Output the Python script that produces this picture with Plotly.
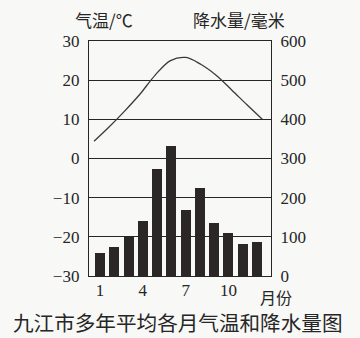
import plotly.graph_objects as go

months = list(range(1, 13))
precip_mm = [59, 73, 99, 140, 272, 332, 168, 224, 136, 111, 81, 88]
temp_c = [4.4, 8.1, 12.1, 16.4, 21.3, 25.0, 25.8, 24.0, 21.2, 17.5, 13.7, 10.0]
temp_ticks = [30, 20, 10, 0, -10, -20, -30]
temp_ticktext = ["30", "20", "10", "0", "\u221210", "\u221220", "\u221230"]
precip_ticks = [0, 100, 200, 300, 400, 500, 600]
month_ticks = [1, 4, 7, 10]

INK = "#262626"
BG = "#f8f8f6"
SERIF = "Liberation Serif, Times New Roman, serif"
CJK = "Noto Sans CJK SC"

fig = go.Figure()
fig.add_trace(go.Scatter(
    x=months, y=temp_c, xaxis="x", yaxis="y",
    mode="lines", line=dict(color="#3a3a3a", width=1.3, shape="spline", smoothing=1.0),
    showlegend=False, hoverinfo="skip"))
fig.add_trace(go.Bar(
    x=months, y=precip_mm, xaxis="x2", yaxis="y2",
    marker=dict(color="#2b2727", line=dict(width=0)), width=0.70,
    showlegend=False, hoverinfo="skip"))

fig.update_layout(
    width=360, height=338,
    margin=dict(l=89, r=89, t=41, b=62),
    paper_bgcolor=BG, plot_bgcolor=BG,
    bargap=0,
    xaxis=dict(range=[0.673, 12.57], showticklabels=False,
               showgrid=False, zeroline=False, showline=True, mirror=True,
               linecolor=INK, linewidth=1.3, ticks=""),
    xaxis2=dict(range=[0.23, 12.98], overlaying="x", side="bottom",
                tickvals=month_ticks, ticktext=[str(m) for m in month_ticks],
                showgrid=False, zeroline=False, showline=False, ticks="",
                ticklabelstandoff=2,
                tickfont=dict(family=SERIF, size=17, color=INK)),
    yaxis=dict(range=[-30, 30], tickvals=temp_ticks, ticktext=temp_ticktext,
               showgrid=True, gridcolor=INK, gridwidth=1.2, zeroline=False,
               showline=True, linecolor=INK, linewidth=1.3, ticks="",
               ticklabelstandoff=5,
               tickfont=dict(family=SERIF, size=17, color=INK)),
    yaxis2=dict(range=[0, 600], tickvals=precip_ticks, overlaying="y", side="right",
                showgrid=False, zeroline=False, showline=True, linecolor=INK, linewidth=1.3,
                ticks="", ticklabelstandoff=5,
                tickfont=dict(family=SERIF, size=17, color=INK)),
    annotations=[
        dict(text="气温/℃", x=104, y=20, xref="paper", yref="paper", showarrow=False,
             font=dict(family=CJK, size=17, color=INK)),
        dict(text="降水量/毫米", x=239, y=20, xref="paper", yref="paper", showarrow=False,
             font=dict(family=CJK, size=17, color=INK)),
        dict(text="月份", x=276, y=297, xref="paper", yref="paper", showarrow=False,
             font=dict(family=CJK, size=16, color=INK)),
        dict(text="九江市多年平均各月气温和降水量图", x=178, y=322, xref="paper", yref="paper",
             showarrow=False, font=dict(family=CJK, size=20.6, color=INK)),
    ],
)

# convert annotation pixel positions into paper fractions
pw, ph = 360 - 89 - 89, 338 - 41 - 62
for a in fig.layout.annotations:
    a.x = (a.x - 89) / pw
    a.y = (338 - 62 - a.y) / ph
    a.xanchor = "center"
    a.yanchor = "middle"

fig.write_html("out.html")
